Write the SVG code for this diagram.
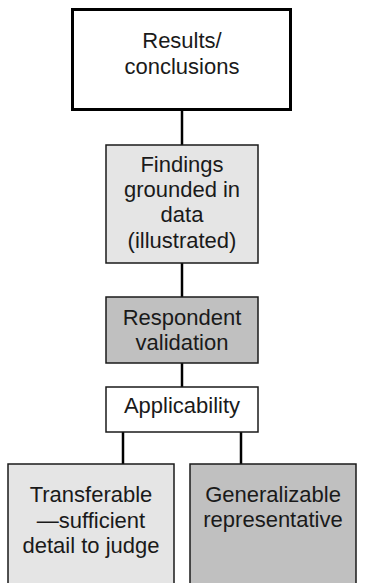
<svg xmlns="http://www.w3.org/2000/svg" width="367" height="583" viewBox="0 0 367 583">
  <style>
    .box { stroke: #1a1a1a; stroke-width: 1.5; }
    .lbl { font-family: "Liberation Sans", Arial, sans-serif; font-size: 22px; fill: #1a1a1a; text-anchor: middle; }
    .link { stroke: #000; stroke-width: 2.5; fill: none; }
  </style>
  <rect width="367" height="583" fill="#fff"/>
  <g id="connectors">
    <line class="link" x1="182" y1="110" x2="182" y2="145"/>
    <line class="link" x1="182" y1="263" x2="182" y2="297"/>
    <line class="link" x1="182" y1="363" x2="182" y2="387"/>
    <line class="link" x1="123" y1="432" x2="123" y2="464"/>
    <line class="link" x1="241" y1="432" x2="241" y2="464"/>
  </g>
  <g id="results">
    <rect x="72.5" y="9.5" width="218" height="100" fill="#fff" stroke="#000" stroke-width="3"/>
    <text class="lbl" x="182" y="48">Results/</text>
    <text class="lbl" x="182" y="74">conclusions</text>
  </g>
  <g id="findings">
    <rect class="box" x="106" y="145" width="152" height="118" fill="#e5e5e5"/>
    <text class="lbl" x="182" y="172">Findings</text>
    <text class="lbl" x="182" y="197">grounded in</text>
    <text class="lbl" x="182" y="222">data</text>
    <text class="lbl" x="182" y="248">(illustrated)</text>
  </g>
  <g id="respondent">
    <rect class="box" x="106" y="297" width="152" height="66" fill="#c0c0c0"/>
    <text class="lbl" x="182" y="325">Respondent</text>
    <text class="lbl" x="182" y="350">validation</text>
  </g>
  <g id="applicability">
    <rect class="box" x="106" y="387" width="152" height="45" fill="#fff"/>
    <text class="lbl" x="182" y="413">Applicability</text>
  </g>
  <g id="transferable">
    <rect class="box" x="8" y="464" width="166" height="130" fill="#e5e5e5"/>
    <text class="lbl" x="91" y="502">Transferable</text>
    <text class="lbl" x="91" y="528">—sufficient</text>
    <text class="lbl" x="91" y="553">detail to judge</text>
  </g>
  <g id="generalizable">
    <rect class="box" x="190" y="464" width="166" height="130" fill="#c0c0c0"/>
    <text class="lbl" x="273" y="502">Generalizable</text>
    <text class="lbl" x="273" y="527">representative</text>
  </g>
</svg>
